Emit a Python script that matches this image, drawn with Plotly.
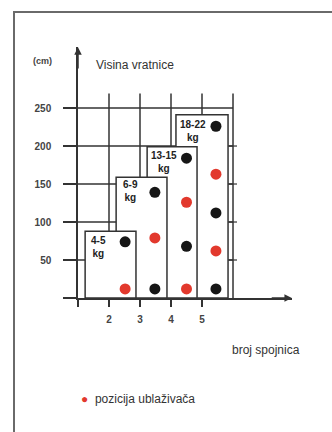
import plotly.graph_objects as go

# ---------------- data ----------------
groups = ["4-5<br>kg", "6-9<br>kg", "13-15<br>kg", "18-22<br>kg"]
box_left = [1.23, 2.23, 3.23, 4.16]
box_right = [2.87, 3.87, 4.84, 5.84]
box_top = [88, 159, 199, 241]
label_x = [1.65, 2.68, 3.78, 4.71]
label_y = [67, 141, 179, 220]

black_x = [2.52, 3.48, 3.48, 4.5, 4.5, 5.45, 5.45, 5.45]
black_y = [74, 12, 139, 68, 184, 12, 112, 226]
red_x = [2.52, 3.48, 4.5, 4.5, 5.45, 5.45]
red_y = [12, 79, 12, 126, 62, 163]

x_ticks = [1, 2, 3, 4, 5]
x_ticktext = ["", "2", "3", "4", "5"]
y_ticks = [0, 50, 100, 150, 200, 250]
y_ticktext = ["", "50", "100", "150", "200", "250"]
grid_x = [2, 3, 4, 5, 6]
grid_y = [50, 100, 150, 200, 250]
right_scale_ticks = [50, 100, 150, 200]

W, H = 332, 432
LINE = "#333333"
RED = "#e2392d"
BLACK = "#161616"
FONT = "Liberation Sans, Arial, sans-serif"

def px(x):
    return x / W

def py(y):
    return 1 - y / H

fig = go.Figure()

# boxes (drawn from back to front: largest first)
for i in reversed(range(len(groups))):
    l, r, t = box_left[i], box_right[i], box_top[i]
    fig.add_trace(go.Scatter(
        x=[l, l, r, r, l], y=[0, t, t, 0, 0],
        mode="lines", fill="toself", fillcolor="white",
        line=dict(color=LINE, width=1.5),
        hoverinfo="skip", showlegend=False))

fig.add_trace(go.Scatter(x=black_x, y=black_y, mode="markers",
                         marker=dict(color=BLACK, size=11),
                         showlegend=False, name="crni"))
fig.add_trace(go.Scatter(x=red_x, y=red_y, mode="markers",
                         marker=dict(color=RED, size=11),
                         showlegend=False, name="pozicija ublaživača"))

shapes = []
for g in grid_y:
    shapes.append(dict(type="line", xref="x", yref="y", x0=1, x1=6, y0=g, y1=g,
                       line=dict(color=LINE, width=1.5), layer="below"))
for g in grid_x:
    shapes.append(dict(type="line", xref="x", yref="y", x0=g, x1=g, y0=0, y1=269,
                       line=dict(color=LINE, width=1.5), layer="below"))
for t in right_scale_ticks:
    shapes.append(dict(type="line", xref="x", yref="y", x0=5.87, x1=6.13, y0=t, y1=t,
                       line=dict(color=LINE, width=1.2), layer="below"))
shapes.append(dict(type="path", xref="paper", yref="paper",
                   path=f"M {px(14)},{py(432)} L {px(14)},{py(12)} L {px(332)},{py(12)}",
                   line=dict(color="#6a6a6a", width=2)))
fig.update_layout(shapes=shapes)

annotations = []
for i, g in enumerate(groups):
    annotations.append(dict(x=label_x[i], y=label_y[i], xref="x", yref="y", text=g,
                            showarrow=False, xanchor="center", yanchor="middle",
                            font=dict(family=FONT, size=10, color="#222", weight="bold"),
                            align="center"))
annotations.append(dict(x=1, y=330, ax=1, ay=300, xref="x", yref="y", axref="x", ayref="y",
                        text="", showarrow=True, arrowhead=2, arrowsize=1, arrowwidth=1.5,
                        arrowcolor=LINE))
annotations.append(dict(x=7.9, y=0, ax=7.2, ay=0, xref="x", yref="y", axref="x", ayref="y",
                        text="", showarrow=True, arrowhead=2, arrowsize=1, arrowwidth=1.5,
                        arrowcolor=LINE))
annotations += [
    dict(x=px(42), y=py(61), xref="paper", yref="paper", text="(cm)", showarrow=False,
         xanchor="center", yanchor="middle",
         font=dict(family=FONT, size=9, color="#444", weight="bold")),
    dict(x=px(94), y=py(65), xref="paper", yref="paper", text="Visina vratnice", showarrow=False,
         xanchor="left", yanchor="middle", font=dict(family=FONT, size=12, color="#333")),
    dict(x=px(230), y=py(350), xref="paper", yref="paper", text="broj spojnica", showarrow=False,
         xanchor="left", yanchor="middle", font=dict(family=FONT, size=12, color="#333")),
    dict(x=px(79), y=py(399), xref="paper", yref="paper",
         text=f"<span style='color:{RED}'>●</span>  pozicija ublaživača", showarrow=False,
         xanchor="left", yanchor="middle", font=dict(family=FONT, size=12, color="#333")),
]
fig.update_layout(annotations=annotations)

fig.update_xaxes(domain=[78 / W, 292 / W], range=[1, 7.903],
                 tickvals=x_ticks, ticktext=x_ticktext, ticks="outside", ticklen=7,
                 tickwidth=1.5, tickcolor=LINE, showline=True, linecolor=LINE, linewidth=1.5,
                 showgrid=False, zeroline=False, ticklabelstandoff=4,
                 tickfont=dict(family=FONT, size=10, color="#444", weight="bold"))
fig.update_yaxes(domain=[1 - 298 / H, 1 - 47 / H], range=[0, 330.3],
                 tickvals=y_ticks, ticktext=y_ticktext, ticks="outside", ticklen=13,
                 tickwidth=1.5, tickcolor=LINE, showline=True, linecolor=LINE, linewidth=1.5,
                 showgrid=False, zeroline=False, ticklabelstandoff=10,
                 tickfont=dict(family=FONT, size=10, color="#444", weight="bold"))

fig.update_layout(width=W, height=H, margin=dict(l=0, r=0, t=0, b=0),
                  paper_bgcolor="white", plot_bgcolor="white", showlegend=False)

fig.write_html("out.html", config={"displayModeBar": False},
               post_script="document.body.style.margin='0px';")
